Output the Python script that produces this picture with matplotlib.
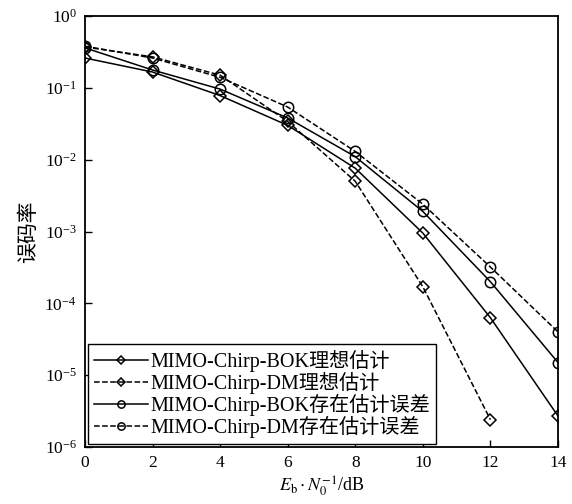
import matplotlib
matplotlib.use("Agg")
import matplotlib.pyplot as plt

# Eb/N0 (dB)
snr_db = [0, 2, 4, 6, 8, 10, 12, 14]
snr_db_dm_ideal = [0, 2, 4, 6, 8, 10, 12]

# bit error rates
ber_bok_ideal = [0.26, 0.166, 0.078, 0.030, 0.0076, 9.5e-4, 6.3e-5, 2.7e-6]
ber_dm_ideal = [0.37, 0.27, 0.15, 0.034, 0.0050, 1.7e-4, 2.4e-6]
ber_bok_err = [0.36, 0.177, 0.096, 0.038, 0.011, 0.0019, 2.0e-4, 1.5e-5]
ber_dm_err = [0.38, 0.26, 0.14, 0.054, 0.013, 0.0024, 3.2e-4, 4.0e-5]

labels = [
    "MIMO-Chirp-BOK理想估计",
    "MIMO-Chirp-DM理想估计",
    "MIMO-Chirp-BOK存在估计误差",
    "MIMO-Chirp-DM存在估计误差",
]

plt.rcParams["font.family"] = ["Liberation Serif", "Noto Sans CJK SC"]
plt.rcParams["mathtext.fontset"] = "stix"

fig = plt.figure(figsize=(5.72, 5.04), dpi=100)
ax = fig.add_axes([85 / 572, 1 - 447 / 504, (558 - 85) / 572, (447 - 16) / 504])

common = dict(color="black", linewidth=1.1, markerfacecolor="none", markeredgecolor="black", markeredgewidth=1.1)
ax.plot(snr_db, ber_bok_ideal, "-", marker="D", markersize=6.5, label=labels[0], **common)
ax.plot(snr_db_dm_ideal, ber_dm_ideal, "--", marker="D", markersize=6.5, label=labels[1], **common)
ax.plot(snr_db, ber_bok_err, "-", marker="o", markersize=7.5, label=labels[2], **common)
ax.plot(snr_db, ber_dm_err, "--", marker="o", markersize=7.5, label=labels[3], **common)

ax.set_yscale("log")
ax.set_xlim(0, 14)
ax.set_ylim(1e-6, 1)
ax.set_xticks(snr_db)
ax.set_yticks([1e-6, 1e-5, 1e-4, 1e-3, 1e-2, 1e-1, 1])
ax.minorticks_off()
ax.tick_params(direction="in", length=5, width=1, labelsize=12.5, pad=6)
for spine in ax.spines.values():
    spine.set_linewidth(1.3)

ax.set_xlabel(r"$E_{\rm b}\cdot N_0^{-1}$/dB", fontsize=13, labelpad=2)
ax.set_ylabel("误码率", fontsize=15, labelpad=4)

leg = ax.legend(loc="lower left", bbox_to_anchor=(0.0, 0.0), fontsize=14.5, numpoints=1,
                handlelength=2.7, handletextpad=0.1, labelspacing=0.0, borderpad=0.3,
                fancybox=False, framealpha=1, edgecolor="black", borderaxespad=0.15,
                markerscale=0.7)
leg.get_frame().set_linewidth(1.0)

fig.savefig("out.png", dpi=100)
